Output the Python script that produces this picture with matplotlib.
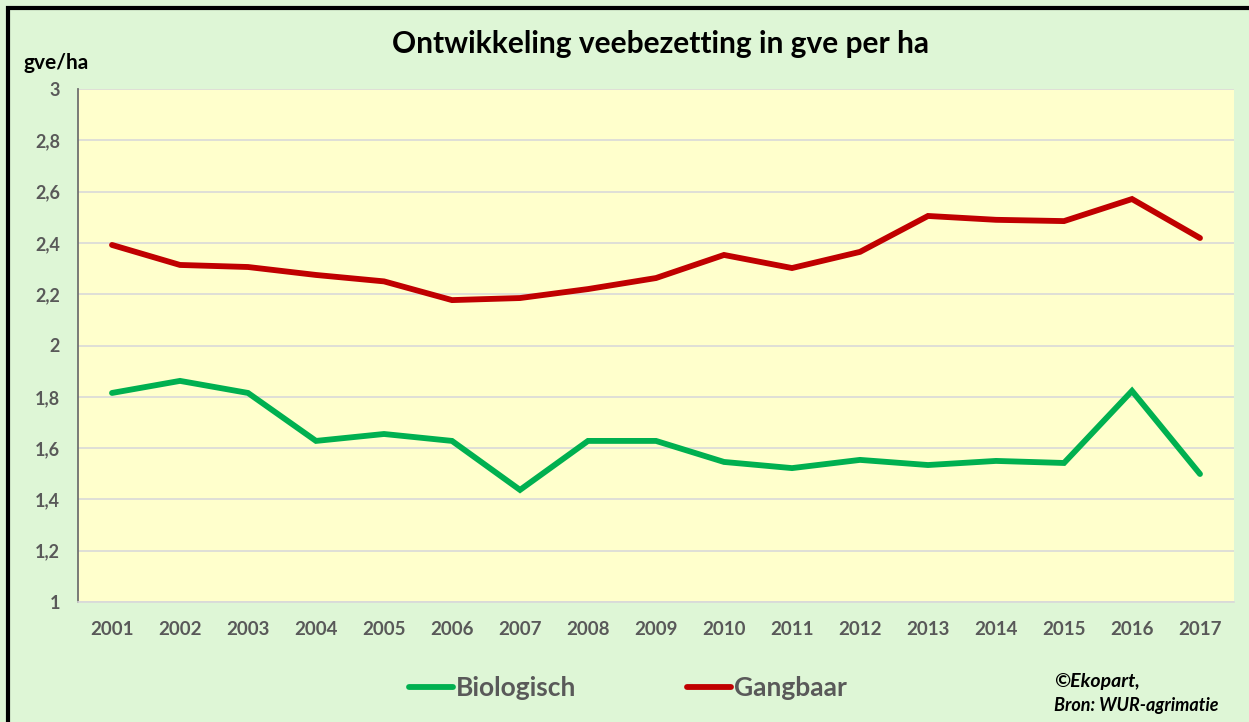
import matplotlib
matplotlib.use("Agg")
import matplotlib.pyplot as plt
from matplotlib.patches import Rectangle
from matplotlib.ticker import FuncFormatter

years = [2001, 2002, 2003, 2004, 2005, 2006, 2007, 2008, 2009, 2010, 2011, 2012, 2013, 2014, 2015, 2016, 2017]
biologisch = [1.815, 1.862, 1.815, 1.628, 1.655, 1.628, 1.437, 1.628, 1.628, 1.546, 1.522, 1.554, 1.534, 1.550, 1.542, 1.823, 1.499]
gangbaar = [2.392, 2.314, 2.306, 2.275, 2.250, 2.177, 2.185, 2.220, 2.263, 2.353, 2.302, 2.365, 2.505, 2.490, 2.485, 2.571, 2.419]
yticks = [1, 1.2, 1.4, 1.6, 1.8, 2, 2.2, 2.4, 2.6, 2.8, 3]

plt.rcParams['font.family'] = ['Lato', 'DejaVu Sans']

W, H = 1249, 722
fig = plt.figure(figsize=(W / 100, H / 100), dpi=100)
fig.patch.set_facecolor('#DEF6D6')

ax = fig.add_axes([78 / W, 1 - 602 / H, (1234 - 78) / W, (602 - 89) / H])
ax.set_facecolor('#FFFFCC')

x = list(range(len(years)))
ax.plot(x, biologisch, color='#00B050', lw=4.2, solid_capstyle='round', solid_joinstyle='miter', label='Biologisch', zorder=3)
ax.plot(x, gangbaar, color='#C00000', lw=4.2, solid_capstyle='round', solid_joinstyle='miter', label='Gangbaar', zorder=3)

ax.set_xlim(-0.5, len(years) - 0.5)
ax.set_ylim(1, 3)
ax.set_yticks(yticks)
ax.yaxis.set_major_formatter(FuncFormatter(lambda v, p: ('%g' % round(v, 1)).replace('.', ',')))
ax.set_xticks(x)
ax.set_xticklabels([str(y) for y in years])
ax.grid(axis='y', color='#D9D9D9', lw=1.2, zorder=0)
ax.set_axisbelow(True)
for s in ['top', 'right']:
    ax.spines[s].set_visible(False)
ax.spines['left'].set_color('#707070')
ax.spines['left'].set_linewidth(1.3)
ax.spines['bottom'].set_color('#D9D9D9')
ax.spines['bottom'].set_linewidth(1.2)
ax.tick_params(axis='both', length=0, labelcolor='#595959')
ax.tick_params(axis='y', pad=13, labelsize=13)
ax.tick_params(axis='x', pad=14, labelsize=13.5)
for lab in ax.get_xticklabels() + ax.get_yticklabels():
    lab.set_fontweight('bold')

fig.text(661 / W, 1 - 44 / H, 'Ontwikkeling veebezetting in gve per ha', ha='center', va='center',
         fontsize=21.5, fontweight='bold', color='black')
fig.text(23 / W, 1 - 63 / H, 'gve/ha', ha='left', va='center', fontsize=15, fontweight='bold', color='black')

leg = fig.legend(loc='center', bbox_to_anchor=(628 / W, 1 - 688 / H), ncol=2, frameon=False,
                 fontsize=19, handlelength=1.65, handletextpad=0.12, columnspacing=4.2)
for t in leg.get_texts():
    t.set_color('#595959')
    t.set_fontweight('bold')

fig.text(1054 / W, 1 - 682 / H, '©Ekopart,', ha='left', va='center', fontsize=14,
         fontweight='bold', fontstyle='italic', color='black')
fig.text(1054 / W, 1 - 706 / H, 'Bron: WUR-agrimatie', ha='left', va='center', fontsize=13,
         fontweight='bold', fontstyle='italic', color='black')

fig.patches.append(Rectangle((8 / W, -0.05), 1.2, 1 - 8 / H + 0.05, transform=fig.transFigure,
                             fill=False, edgecolor='black', lw=3, zorder=10))

fig.savefig('out.png', dpi=100, facecolor=fig.get_facecolor())
